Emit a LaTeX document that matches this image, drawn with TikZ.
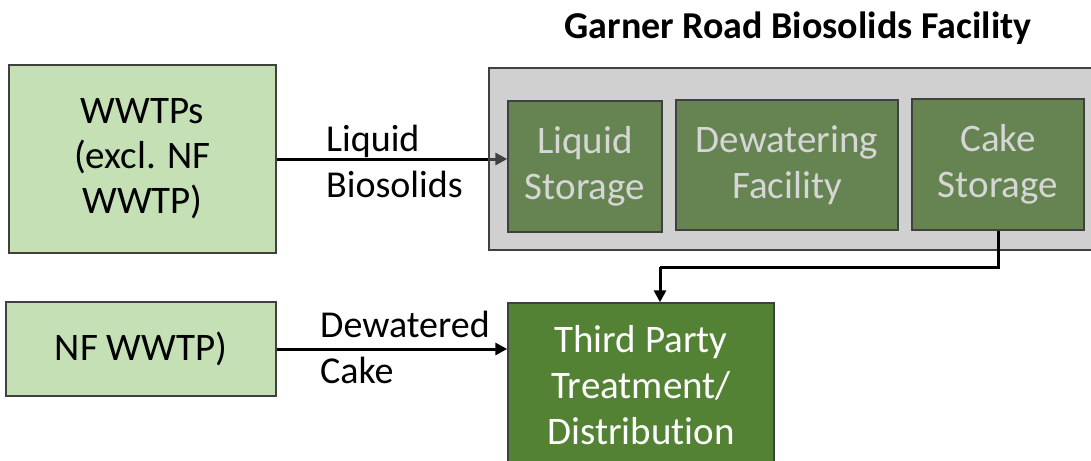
\documentclass[tikz,border=0pt]{standalone}
\usepackage{fontspec}
\setmainfont{Carlito}[Ligatures=NoCommon]
\usetikzlibrary{arrows.meta}
\definecolor{lightg}{HTML}{C5E0B4}
\definecolor{midg}{HTML}{668452}
\definecolor{darkg}{HTML}{548235}
\definecolor{contg}{HTML}{D0D0D0}
\definecolor{bord}{HTML}{404040}
\definecolor{txtg}{HTML}{D6D6D6}
\tikzset{
  srcbox/.style={draw=bord, line width=1.5pt, fill=lightg, align=center, inner sep=0pt, font=\fontsize{39}{45}\selectfont},
  stagebox/.style={draw=bord, line width=1.5pt, fill=midg, text=txtg, align=center, inner sep=0pt, font=\fontsize{39}{46}\selectfont},
  outbox/.style={draw=bord, line width=1.5pt, fill=darkg, text=white, align=center, inner sep=0pt, font=\fontsize{39}{46}\selectfont},
  flow/.style={line width=3pt, -{Triangle[length=12pt,width=12pt]}},
  flowlabel/.style={align=left, anchor=west, inner sep=0pt, font=\fontsize{38}{46}\selectfont}
}
\begin{document}
\begin{tikzpicture}[x=1pt,y=-1pt]
\useasboundingbox (0,0) rectangle (1091,460);
\begin{scope}
\clip (0,0) rectangle (1091,460);
\node[font=\fontsize{38}{40}\selectfont\bfseries, inner sep=0pt] (title) at (798,28) {Garner Road Biosolids Facility};
\node[srcbox, minimum width=267pt, minimum height=188pt] (wwtps) at (142.5,159) {WWTPs\\(excl. NF\\WWTP)};
\node[srcbox, minimum width=270pt, minimum height=94pt] (nf) at (141,349) {NF WWTP)};
\node[draw=bord, line width=1.5pt, fill=contg, minimum width=620pt, minimum height=182pt, inner sep=0pt] (facility) at (799,159) {};
\node[stagebox, minimum width=154pt, minimum height=131pt] (liq) at (585,166.5) {Liquid\\Storage};
\node[stagebox, minimum width=222pt, minimum height=130pt] (dew) at (787,165) {Dewatering\\Facility};
\node[stagebox, minimum width=172pt, minimum height=131pt] (cake) at (998,164.5) {Cake\\Storage};
\node[outbox, minimum width=266pt, minimum height=164pt] (third) at (641,385) {Third Party\\Treatment/\\Distribution};
\draw[line width=3pt] (wwtps.east |- 0,159) -- (facility.west |- 0,159);
\draw[flow, draw=bord, fill=bord] (facility.west |- 0,159) -- (liq.west |- 0,159);
\node[flowlabel] (l1) at (326,161) {Liquid\\Biosolids};
\coordinate (c2) at (998,267);
\coordinate (c3) at (660,267);
\draw[line width=3pt] (cake.south) -- (c2) -- (c3);
\draw[flow] (c3) -- (third.north -| c3);
\draw[flow] (nf.east |- 0,349) -- (third.west |- 0,349);
\node[flowlabel] (l2) at (320,347) {Dewatered\\Cake};
\end{scope}
\end{tikzpicture}
\end{document}
